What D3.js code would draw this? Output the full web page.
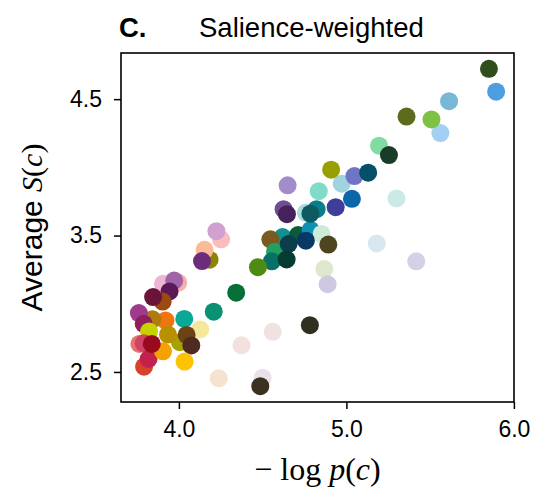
<!DOCTYPE html>
<html>
<head>
<meta charset="utf-8">
<script src="https://cdn.jsdelivr.net/npm/d3@7"></script>
<style>
  html, body { margin: 0; padding: 0; background: #fff; }
  svg { display: block; }
</style>
</head>
<body>
<svg id="chart" width="533" height="492"></svg>
<script>
// ---- data ----
const negLogP = [
  3.996, 3.905, 3.972, 3.944, 3.903, 3.846,
  4.252, 4.224, 4.183, 4.153, 4.138,
  3.920, 3.842, 3.761, 3.790, 4.032, 4.208,
  3.822, 4.006, 3.935, 4.127, 4.046, 4.074,
  3.764, 3.790, 3.792, 3.819, 3.905, 3.838, 4.034,
  4.374, 4.560, 4.782, 4.238, 4.500, 4.486,
  4.342, 4.868, 4.888, 5.181, 5.417,
  4.619, 4.711, 4.546, 4.574, 4.555, 4.786, 4.852, 4.655, 4.758, 4.643, 4.892, 4.472,
  4.649, 4.625, 4.645, 4.758, 4.822, 4.785, 4.835,
  4.972, 4.909, 5.048, 5.130, 5.033, 4.936, 5.299,
  5.195, 5.254, 5.561, 5.508, 5.359, 5.613, 5.894, 5.851
];
const avgS = [
  3.155, 3.146, 3.170, 3.090, 3.016, 3.049,
  3.472, 3.532, 3.323, 3.395, 3.313,
  2.878, 2.886, 2.932, 2.853, 2.889, 2.942,
  2.797, 2.718, 2.774, 2.812, 2.771, 2.694,
  2.705, 2.710, 2.539, 2.595, 2.651, 2.705, 2.576,
  2.695, 2.794, 2.843, 2.453, 2.458, 2.396,
  3.081, 3.255, 3.143, 3.442, 3.311,
  3.489, 3.504, 3.472, 3.382, 3.311, 3.541, 3.512, 3.438, 3.462, 3.325, 3.434, 3.268,
  3.868, 3.693, 3.657, 3.667, 3.693, 3.660, 3.825,
  3.880, 3.983, 3.936, 3.961, 3.769, 3.708, 3.772,
  4.159, 4.090, 4.251, 4.351, 4.372, 4.485, 4.555, 4.722
];
const pointColors = [
  "#f6b0a8", "#eeb6d6", "#a064a8", "#5b1a57", "#9b4a12", "#6a1439",
  "#fbbcbc", "#d1a0d1", "#8a8600", "#fcbb97", "#6d2c79",
  "#f27411", "#ae7c0c", "#a03b8b", "#8e1f5e", "#09a897", "#0a9072",
  "#c5d200", "#a8a200", "#b99100", "#f4e89b", "#6b4315", "#4f2b1f",
  "#e87272", "#cf4466", "#d7412e", "#c1214b", "#f5a100", "#990a1f", "#ffc200",
  "#f2e1dd", "#f0e2e0", "#2f3020", "#f5e3cf", "#ece0ea", "#3a3120",
  "#077038", "#dde8cd", "#cfc8e2", "#d7e8f1", "#d5d0e8",
  "#119090", "#0b5b3b", "#7a5a1f", "#23a060", "#077068", "#1090b0", "#cdebd8", "#0b3d4b", "#063965", "#063b31", "#4e4420", "#4e8b12",
  "#a48ccb", "#6e4f93", "#44225c", "#a8dcdc", "#0b7d89", "#0e5a61", "#80dcc8",
  "#9fd3de", "#97a000", "#6f74c4", "#054f6b", "#0b67a8", "#3d3d9a", "#cbeae7",
  "#80dca0", "#183c27", "#a3cff4", "#7dc242", "#5c6b1e", "#78b8d6", "#4d9de0", "#2e4f1b"
];
const xTicks = [4.0, 5.0, 6.0];
const yTicks = [2.5, 3.5, 4.5];
const titleLetter = "C.";
const titleText = "Salience-weighted";

// ---- layout ----
const W = 533, H = 492;
const m = { left: 121, right: 19, top: 53, bottom: 90 };
const iw = W - m.left - m.right, ih = H - m.top - m.bottom;
const sans = "'Liberation Sans', Arial, sans-serif";
const serif = "'Liberation Serif', 'DejaVu Serif', serif";

const pts = negLogP.map((x, i) => ({ x, y: avgS[i], c: pointColors[i] }));

function padded(ext) { const r = ext[1] - ext[0]; return [ext[0] - 0.05 * r, ext[1] + 0.05 * r]; }
const x = d3.scaleLinear().domain(padded(d3.extent(negLogP))).range([0, iw]);
const y = d3.scaleLinear().domain(padded(d3.extent(avgS))).range([ih, 0]);

const svg = d3.select("#chart");
const g = svg.append("g").attr("transform", `translate(${m.left},${m.top})`);

// points
g.append("g").selectAll("circle").data(pts).join("circle")
  .attr("cx", d => x(d.x)).attr("cy", d => y(d.y)).attr("r", 9)
  .attr("fill", d => d.c);

// axes
const xAxis = g.append("g").attr("transform", `translate(0,${ih})`)
  .call(d3.axisBottom(x).tickValues(xTicks).tickFormat(d3.format(".1f")).tickSize(7).tickPadding(12).tickSizeOuter(0));
const yAxis = g.append("g")
  .call(d3.axisLeft(y).tickValues(yTicks).tickFormat(d3.format(".1f")).tickSize(7).tickPadding(12).tickSizeOuter(0));
[xAxis, yAxis].forEach(a => {
  a.select(".domain").remove();
  a.selectAll(".tick line").attr("stroke", "#000").attr("stroke-width", 1.5);
  a.selectAll(".tick text").attr("fill", "#000").style("font-family", sans).style("font-size", "23px");
});

// frame
g.append("rect").attr("x", 0).attr("y", 0).attr("width", iw).attr("height", ih)
  .attr("fill", "none").attr("stroke", "#000").attr("stroke-width", 1.6);

// title
svg.append("text").attr("x", 119).attr("y", 37)
  .style("font-family", sans).style("font-size", "27.5px").style("font-weight", "bold")
  .text(titleLetter);
svg.append("text").attr("x", 199).attr("y", 37)
  .style("font-family", sans).style("font-size", "27.5px")
  .text(titleText);

// x label: − log p(c)
const xl = svg.append("text").attr("x", m.left + iw / 2).attr("y", 480)
  .attr("text-anchor", "middle").style("font-family", serif).style("font-size", "32px");
xl.append("tspan").text("\u2212 log ");
xl.append("tspan").style("font-style", "italic").text("p");
xl.append("tspan").text("(");
xl.append("tspan").style("font-style", "italic").text("c");
xl.append("tspan").text(")");

// y label: Average S(c)
const yl = svg.append("text")
  .attr("transform", `translate(42,${m.top + ih / 2}) rotate(-90)`)
  .attr("text-anchor", "middle").style("font-size", "30px");
yl.append("tspan").style("font-family", sans).text("Average ");
yl.append("tspan").style("font-family", serif).style("font-style", "italic").text("S");
yl.append("tspan").style("font-family", serif).text("(");
yl.append("tspan").style("font-family", serif).style("font-style", "italic").text("c");
yl.append("tspan").style("font-family", serif).text(")");
</script>
</body>
</html>
